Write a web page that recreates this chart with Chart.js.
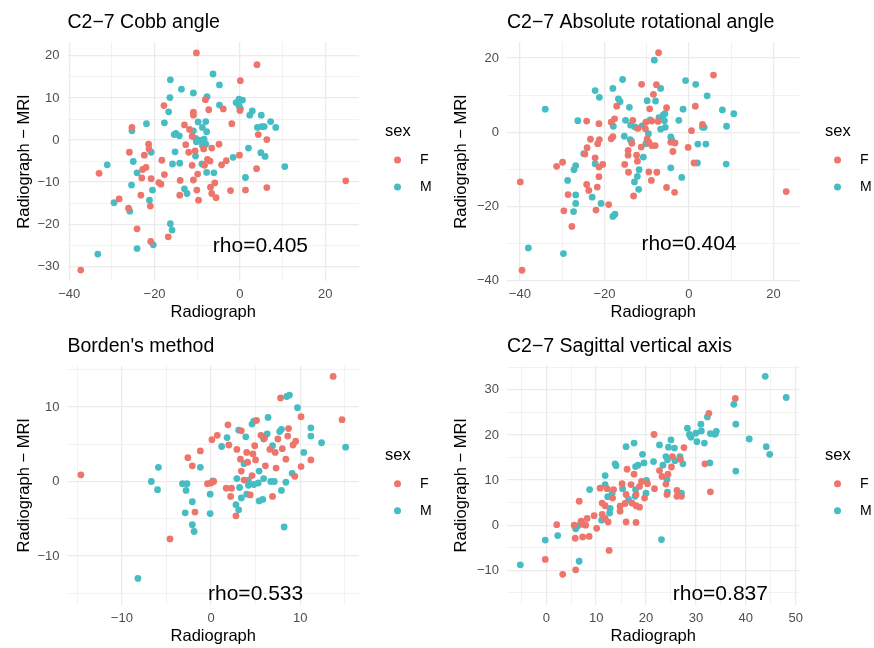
<!DOCTYPE html>
<html>
<head>
<meta charset="utf-8">
<script src="https://cdn.jsdelivr.net/npm/chart.js@4.4.1/dist/chart.umd.min.js"></script>
<style>
  html, body { margin: 0; padding: 0; background: #fff; }
  #wrap { position: relative; width: 874px; height: 648px; }
  .panel { position: absolute; width: 437px; height: 324px; }
</style>
</head>
<body>
<div id="wrap">
  <div class="panel" style="left:0;top:0"><canvas id="c1"></canvas></div>
  <div class="panel" style="left:437px;top:0"><canvas id="c2"></canvas></div>
  <div class="panel" style="left:0;top:324px"><canvas id="c3"></canvas></div>
  <div class="panel" style="left:437px;top:324px"><canvas id="c4"></canvas></div>
</div>
<script>
const FONT = '"Liberation Sans", Arial, Helvetica, sans-serif';
const colF = '#EE756B', colM = '#45BDC2';

// C2-7 Cobb angle  [radiograph, radiograph - MRI]
const cobbF = [[-10.2,20.7],[4.0,17.9],[0.1,14.1],[-8.1,9.6],[-17.8,8.2],[-7.3,7.2],[-3.9,7.4],[0,7.0],
  [-10.9,6.6],[-10.9,5.9],[-13.0,3.6],[-25.3,3.0],[-11.8,2.5],[-1.9,3.9],[4.3,1.3],[6.3,0.1],[-11.2,0.9],
  [-21.4,-1.0],[-21.3,-2.1],[-12.7,-1.1],[-25.9,-2.9],[-22.4,-3.6],[-12.0,-2.9],[-10.5,-2.6],[-6.6,-1.9],
  [-4.9,-1.0],[-8.5,-2.1],[-7.6,-4.6],[-7.0,-5.0],[-0.1,-3.6],[-18.3,-4.8],[-22.0,-6.5],[-22.8,-7.0],
  [-11.2,-6.0],[-4.3,-5.9],[-3.2,-4.9],[-8.3,-6.0],[3.9,-6.8],[-33.0,-7.9],[-23.0,-9.0],[-20.8,-9.2],
  [-17.7,-8.2],[-19.0,-10.1],[-18.5,-10.5],[-14.0,-9.6],[-10.9,-9.5],[-9.9,-8.1],[-5.9,-10.2],[-6.9,-11.2],
  [-10.1,-11.9],[-14.1,-13.1],[-23.2,-13.1],[-28.3,-14.0],[-9.7,-14.3],[-6.6,-12.7],[-5.6,-13.7],[-2.2,-12.0],
  [1.3,-11.9],[6.3,-11.3],[24.8,-9.7],[-26.1,-16.2],[-21.0,-15.7],[-24.1,-21.1],[-20.9,-24.1],[-16.8,-23.0],
  [-37.3,-30.9]];
const cobbM = [[-6.3,15.7],[-4.8,13.1],[-16.3,14.3],[-13.7,12.1],[-10.9,11.2],[-16.4,10.1],[-7.7,10.3],
  [-16.7,6.7],[-4.8,8.3],[-0.9,8.9],[-0.2,9.7],[0.6,9.5],[-0.2,8.1],[0.1,7.5],[2.3,5.9],[2.9,6.9],[5.0,5.9],
  [7.2,4.4],[8.4,3.0],[4.1,3.0],[5.1,3.2],[5.7,3.2],[-21.9,3.9],[-25.3,2.2],[-17.7,4.1],[-9.8,4.3],[-8.0,4.4],
  [-8.8,3.0],[-15.0,1.6],[-14.2,1.0],[-15.4,1.3],[-10.9,2.2],[-7.8,2.0],[-10.4,0.4],[-9.5,0],[-8.4,0.2],
  [-8.0,-1.0],[-8.8,-1.3],[-10.2,-0.4],[-15.2,-2.8],[-20.8,-2.9],[-25.0,-5.1],[-15.8,-5.7],[-14.1,-5.5],
  [-10.4,-3.8],[-8.9,-5.7],[-7.8,-7.7],[-6.1,-7.8],[-1.6,-4.1],[2.0,-1.9],[4.9,-3.0],[5.9,-3.9],[10.5,-6.3],
  [1.3,-8.9],[-31.1,-5.9],[-24.1,-7.8],[-25.4,-10.7],[-20.5,-11.9],[-21.2,-14.3],[-13.0,-11.6],[-12.4,-12.7],
  [-29.5,-14.9],[-25.8,-16.9],[-16.3,-19.9],[-15.9,-21.4],[-20.3,-24.9],[-24.1,-25.8],[-33.3,-27.1]];

// C2-7 Absolute rotational angle
const rotF = [[-7.2,21.4],[5.8,15.4],[-11.2,12.9],[-7.7,12.8],[-8.4,10.2],[-9.3,6.3],[-5.3,6.6],[1.5,7.0],
  [-17.1,7.0],[-18.4,2.7],[-17.6,3.6],[-24.2,3.0],[-21.3,2.3],[-13.3,3.2],[-10.2,2.7],[-8.8,3.0],[-7.3,2.9],
  [-12.1,1.0],[-10.3,0.9],[0.6,0.4],[3.2,2.1],[-23.3,-1.9],[-21.2,-2.0],[-21.6,-3.1],[-18.4,-1.8],[-18.0,-1.2],
  [-9.9,-1.9],[-8.8,-3.6],[-8.0,-3.6],[-9.5,-2.7],[-11.3,-4.0],[-13.5,-3.0],[-14.4,-4.9],[-14.4,-6.2],
  [-12.4,-6.2],[-12.2,-7.8],[-24.1,-4.2],[-24.6,-5.9],[-22.2,-6.9],[-15.2,-8.7],[-20.4,-8.7],[-21.3,-9.4],
  [-31.3,-9.2],[-29.9,-8.1],[-21.3,-12.0],[-14.3,-10.8],[-9.5,-10.7],[-7.6,-10.8],[-8.9,-13.0],[-4.3,-2.7],
  [-3.8,-5.2],[-3.3,-2.9],[-0.2,-4.1],[1.2,-8.3],[-5.3,-14.9],[-3.4,-16.2],[-13.1,-17.2],[-24.2,-14.1],
  [-23.7,-15.7],[-21.7,-14.8],[-28.6,-16.8],[-29.6,-21.2],[-22.0,-21.0],[-19.0,-19.5],[-27.7,-25.4],
  [-39.9,-13.4],[-39.5,-37.2],[23.0,-16.0]];
const rotM = [[-8.2,19.4],[-0.8,13.9],[1.6,12.9],[4.3,9.8],[-15.7,14.2],[-22.2,11.2],[-21.2,9.4],[-18.0,11.8],
  [-6.7,11.8],[-9.9,8.5],[-7.9,8.4],[-16.7,9.0],[-16.3,8.2],[-14.1,6.7],[-1.4,6.2],[7.9,6.0],[10.6,5.0],
  [-34.0,6.2],[-26.3,3.1],[-15.0,3.2],[-13.8,1.9],[-12.8,1.4],[-11.1,1.7],[-9.2,3.3],[-7.1,3.9],[-6.1,4.6],
  [-5.7,5.0],[-5.8,3.1],[-5.6,1.3],[-6.7,0.8],[-2.4,3.2],[3.2,1.3],[3.6,1.3],[8.9,1.6],[-17.9,1.6],[-9.6,-0.4],
  [-15.3,-1.1],[-13.9,-2.0],[-13.6,-2.4],[-10.2,-3.1],[-4.3,-1.3],[-4.1,-2.0],[2.1,-3.2],[4.0,-3.2],[2.0,-8.3],
  [8.8,-8.6],[-10.8,-6.7],[-24.9,-5.8],[-22.2,-8.5],[-26.8,-9.0],[-27.2,-10.1],[-28.7,-13.0],[-11.8,-10.1],
  [-12.2,-11.9],[-12.9,-13.4],[-11.9,-15.4],[-4.3,-9.6],[-1.7,-12.2],[-26.8,-16.9],[-26.8,-19.2],[-27.3,-21.4],
  [-22.9,-17.5],[-20.8,-19.2],[-17.5,-22.1],[-18.0,-22.7],[-38.0,-31.2],[-29.7,-32.7]];

// Borden's method
const bordenF = [[13.7,14.1],[7.8,11.2],[14.7,8.3],[10.1,8.7],[5.1,8.2],[8.7,7.1],[1.9,7.6],[0.7,6.2],
  [0.1,5.6],[2.0,4.9],[3.4,6.8],[5.6,6.2],[7.5,5.7],[8.6,6.1],[9.5,5.4],[9.2,4.9],[4.9,4.8],[2.9,4.3],
  [-1.2,4.1],[-2.6,3.2],[-2.1,2.1],[6.6,4.3],[7.2,3.9],[8.0,4.4],[8.4,3.0],[4.0,3.9],[4.7,3.7],[3.3,3.0],
  [4.1,2.6],[3.4,1.4],[5.0,2.9],[6.1,2.1],[7.3,1.8],[10.1,2.0],[11.2,2.9],[9.4,0.7],[3.7,0.2],[4.6,0.8],
  [-0.4,-0.3],[0,-0.2],[0.3,0],[1.7,-0.9],[2.3,-0.9],[2.2,-2.0],[4.4,-1.8],[6.9,-2.0],[2.8,-4.6],
  [-1.8,-4.1],[-4.6,-7.7],[-14.6,0.9],[6.0,5.8]];
const bordenM = [[8.8,11.6],[8.5,11.4],[9.7,9.9],[6.4,8.6],[4.6,7.7],[4.8,8.1],[3.1,6.9],[1.8,5.9],[1.2,4.7],
  [3.9,6.0],[6.3,6.4],[7.7,6.7],[7.9,7.0],[5.9,5.7],[6.9,4.8],[11.2,7.2],[11.2,6.1],[12.4,5.2],[15.1,4.6],
  [10.4,3.9],[-5.9,1.9],[-1.2,1.9],[-6.7,0],[-6.0,-1.1],[-3.2,-0.3],[-2.7,-0.3],[-2.8,-1.2],[-2.1,-2.7],
  [-2.9,-4.2],[-2.1,-5.8],[-1.9,-6.7],[-0.1,-1.7],[-0.1,-4.3],[0.2,0.1],[2.9,0.4],[3.2,-0.8],[3.7,2.4],
  [4.2,0.2],[4.2,-0.5],[4.8,-0.4],[5.3,-0.2],[5.9,0.4],[6.7,0],[7.1,0],[8.4,-0.1],[9.1,1.1],[5.4,1.4],
  [3.4,-2.2],[2.8,-3.1],[3.1,-3.8],[4.0,-1.7],[5.4,-2.6],[5.8,-2.4],[7.9,-1.2],[8.2,-6.1],[-8.2,-13.0]];

// C2-7 Sagittal vertical axis
const svaF = [[37.9,28.1],[32.6,24.8],[21.6,20.1],[27.6,17.2],[25.3,15.2],[26.9,14.6],[31.8,13.6],[32.9,7.4],
  [16.2,12.4],[17.6,11.3],[22.7,12.1],[23.2,10.8],[24.4,11.3],[25.1,12.9],[24.0,9.1],[21.7,8.1],[20.3,9.2],
  [19.1,9.7],[18.7,8.6],[17.0,9.0],[15.2,9.2],[19.7,6.0],[18.0,6.8],[16.0,6.8],[14.8,3.1],[15.8,4.8],
  [17.2,4.9],[18.0,4.3],[18.7,4.0],[18.0,0.6],[16.0,0.7],[10.8,8.2],[12.2,8.1],[13.5,7.9],[13.3,6.0],
  [14.8,4.2],[11.2,4.9],[11.8,4.3],[11.2,2.4],[11.8,1.5],[12.4,0.7],[9.6,2.1],[10.1,-0.7],[6.6,5.3],[8.2,1.5],
  [7.0,0.9],[7.3,0.2],[7.9,0],[5.6,0],[5.8,-2.9],[7.3,-2.6],[8.6,-2.5],[2.1,0.1],[-0.2,-7.6],[3.3,-10.9],
  [5.9,-9.9],[12.6,-5.6],[24.2,6.8],[26.2,6.4],[27.1,6.4],[26.2,7.7]];
const svaM = [[43.9,33.0],[48.1,28.3],[37.6,26.8],[38.0,22.4],[32.3,24.0],[31.0,22.4],[28.3,21.5],[28.7,20.1],
  [29.0,19.5],[30.0,20.4],[30.2,18.5],[31.1,20.9],[31.7,18.2],[32.9,20.3],[33.7,20.2],[34.1,20.8],[33.9,20.2],
  [40.7,19.1],[44.1,17.4],[44.8,15.7],[38.0,12.0],[32.8,13.8],[16.0,17.4],[17.6,18.2],[19.3,15.7],[19.6,13.8],
  [18.4,13.3],[17.9,13.0],[21.5,14.1],[22.7,17.8],[25.0,18.9],[24.5,17.3],[25.7,17.1],[24.0,15.2],[24.3,14.5],
  [23.4,13.3],[25.8,14.3],[26.8,15.2],[27.4,13.6],[24.2,10.1],[24.3,7.3],[27.1,7.1],[20.1,9.9],[20.0,7.1],
  [17.9,7.9],[17.8,6.4],[15.3,8.1],[16.5,5.7],[13.8,13.6],[14.0,13.2],[11.8,11.0],[11.8,9.0],[8.7,7.9],
  [12.3,6.3],[13.2,7.0],[12.8,3.7],[12.7,2.7],[11.1,1.1],[6.3,-0.2],[6.9,0.4],[5.9,-0.8],[6.6,-8.0],
  [2.3,-2.3],[-0.2,-3.3],[-5.2,-8.8],[23.1,-3.2]];

const titles = ['C2\u22127 Cobb angle', 'C2\u22127 Absolute rotational angle', "Borden's method", 'C2\u22127 Sagittal vertical axis'];
const rhoLabels = ['rho=0.405', 'rho=0.404', 'rho=0.533', 'rho=0.837'];
const rhoX = [4.8, 0, 5.0, 34.9];
const rhoY = [-25.3, -30.2, -15.1, -15.3];
const legendTitle = 'sex';

// tick breaks (major labelled, minor only grid)
const cobbXMajor = [-40, -20, 0, 20], cobbXMinor = [-30, -10, 10];
const cobbYMajor = [-30, -20, -10, 0, 10, 20], cobbYMinor = [-25, -15, -5, 5, 15];
const rotXMajor = [-40, -20, 0, 20], rotXMinor = [-30, -10, 10];
const rotYMajor = [-40, -20, 0, 20], rotYMinor = [-30, -10, 10];
const bordenXMajor = [-10, 0, 10], bordenXMinor = [-15, -5, 5, 15];
const bordenYMajor = [-10, 0, 10], bordenYMinor = [-15, -5, 5, 15];
const svaXMajor = [0, 10, 20, 30, 40, 50], svaXMinor = [-5, 5, 15, 25, 35, 45];
const svaYMajor = [-10, 0, 10, 20, 30], svaYMinor = [-15, -5, 5, 15, 25, 35];

const fmt = v => (v < 0 ? '\u2212' + Math.abs(v) : String(v));
const pts = arr => arr.map(p => ({ x: p[0], y: p[1] }));

const panelText = {
  id: 'panelText',
  afterDatasetsDraw(chart, args, o) {
    const { ctx, scales } = chart;
    ctx.save();
    ctx.fillStyle = '#000';
    ctx.textAlign = 'center';
    ctx.textBaseline = 'middle';
    ctx.font = '21px ' + FONT;
    ctx.fillText(o.rho, scales.x.getPixelForValue(o.rx), scales.y.getPixelForValue(o.ry));
    ctx.restore();
  },
  afterDraw(chart, args, o) {
    const { ctx, chartArea: a } = chart;
    const cy = (a.top + a.bottom) / 2;
    const lx = o.legendX;
    ctx.save();
    ctx.textAlign = 'left';
    ctx.textBaseline = 'middle';
    ctx.fillStyle = '#000';
    ctx.font = '16.5px ' + FONT;
    ctx.fillText(legendTitle, lx, cy - 30);
    ctx.font = '14px ' + FONT;
    chart.data.datasets.forEach((ds, i) => {
      const y = cy - 1.5 + i * 27;
      ctx.fillStyle = ds.backgroundColor;
      ctx.beginPath();
      ctx.arc(lx + 12.5, y, 3.5, 0, Math.PI * 2);
      ctx.fill();
      ctx.fillStyle = '#000';
      ctx.fillText(ds.label, lx + 35, y);
    });
    ctx.restore();
  }
};

function makePanel(id, p) {
  const H = 324, W = 437;
  const axis = (major, minor, lim, pad, extra) => Object.assign({
    type: 'linear', min: lim[0], max: lim[1],
    afterBuildTicks: s => { s.ticks = major.concat(minor).sort((a, b) => a - b).map(v => ({ value: v })); },
    grid: { color: '#EBEBEB', drawTicks: false,
      lineWidth: c => (c.tick && major.includes(c.tick.value) ? 1.3 : 0.65) },
    border: { display: false },
    ticks: { color: '#4D4D4D', font: { family: FONT, size: 13 }, autoSkip: false, maxRotation: 0, padding: pad,
      callback: v => (major.includes(v) ? fmt(v) : '') }
  }, extra);

  new Chart(document.getElementById(id), {
    type: 'scatter',
    data: {
      datasets: [
        { label: 'F', data: pts(p.F), backgroundColor: colF, borderWidth: 0, pointRadius: 3.4 },
        { label: 'M', data: pts(p.M), backgroundColor: colM, borderWidth: 0, pointRadius: 3.4 }
      ]
    },
    options: {
      responsive: true, maintainAspectRatio: false, animation: false, events: [],
      layout: { padding: { left: 0, top: 0, right: W - p.box[1], bottom: 0 } },
      plugins: {
        legend: { display: false }, tooltip: { enabled: false },
        title: { display: true, text: p.title, align: 'start', fullSize: false, color: '#000',
          font: { family: FONT, size: 19.5, weight: 'normal', lineHeight: 1.2 },
          padding: { top: 11, bottom: p.box[2] - 23.4 - 11 } },
        panelText: { rho: p.rho, rx: p.rx, ry: p.ry, legendX: p.legendX }
      },
      scales: {
        x: axis(p.xMajor, p.xMinor, p.xlim, 6, {
          afterFit: s => { s.height = H - p.box[3]; },
          title: { display: true, text: 'Radiograph', color: '#000',
            font: { family: FONT, size: 16.5, lineHeight: 1.2 }, padding: { top: 0, bottom: 2 } }
        }),
        y: axis(p.yMajor, p.yMinor, p.ylim, 8, {
          afterFit: s => { s.width = p.box[0]; },
          title: { display: true, text: 'Radiograph \u2212 MRI', color: '#000',
            font: { family: FONT, size: 16.5, lineHeight: 1.2 }, padding: { top: 15, bottom: 0 } }
        })
      }
    },
    plugins: [panelText]
  });
}

makePanel('c1', { title: titles[0], F: cobbF, M: cobbM, xMajor: cobbXMajor, xMinor: cobbXMinor,
  yMajor: cobbYMajor, yMinor: cobbYMinor, xlim: [-40.4, 27.9], ylim: [-33.5, 23.3],
  rho: rhoLabels[0], rx: rhoX[0], ry: rhoY[0], box: [67.5, 359, 42, 281], legendX: 385 });
makePanel('c2', { title: titles[1], F: rotF, M: rotM, xMajor: rotXMajor, xMinor: rotXMinor,
  yMajor: rotYMajor, yMinor: rotYMinor, xlim: [-43.05, 26.15], ylim: [-40.1, 24.3],
  rho: rhoLabels[1], rx: rhoX[1], ry: rhoY[1], box: [70, 362.5, 42, 281], legendX: 388 });
makePanel('c3', { title: titles[2], F: bordenF, M: bordenM, xMajor: bordenXMajor, xMinor: bordenXMinor,
  yMajor: bordenYMajor, yMinor: bordenYMinor, xlim: [-16.1, 16.6], ylim: [-16.56, 15.56],
  rho: rhoLabels[2], rx: rhoX[2], ry: rhoY[2], box: [67.5, 359, 41.5, 281], legendX: 385 });
makePanel('c4', { title: titles[3], F: svaF, M: svaM, xMajor: svaXMajor, xMinor: svaXMinor,
  yMajor: svaYMajor, yMinor: svaYMinor, xlim: [-7.87, 50.77], ylim: [-17.7, 35.4],
  rho: rhoLabels[3], rx: rhoX[3], ry: rhoY[3], box: [70, 362.5, 41.5, 281], legendX: 388 });
</script>
</body>
</html>
